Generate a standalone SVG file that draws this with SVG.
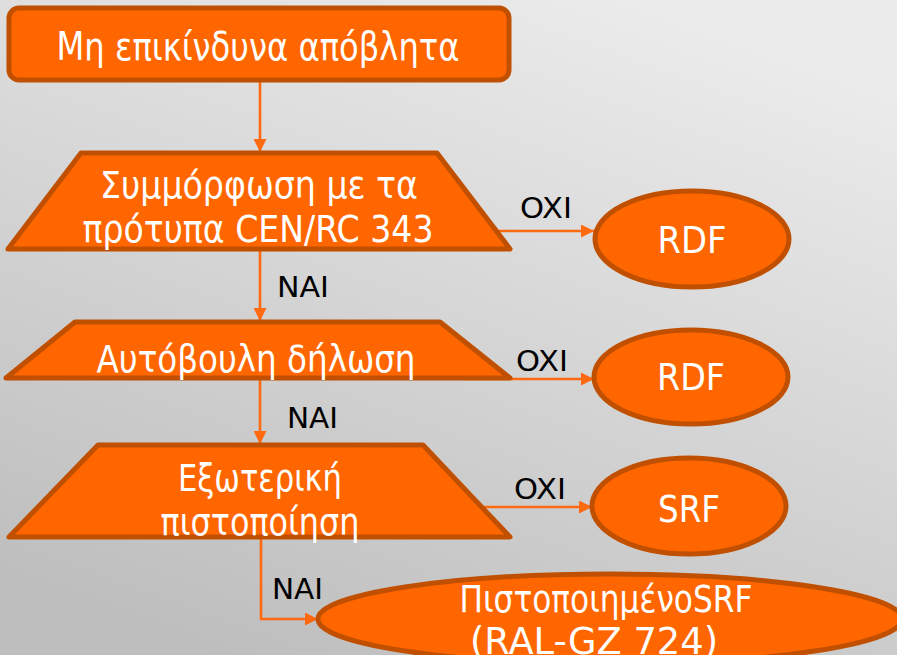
<svg xmlns="http://www.w3.org/2000/svg" width="897" height="655" viewBox="0 0 897 655">
  <defs>
    <linearGradient id="bg" x1="0.75" y1="0" x2="0.25" y2="1">
      <stop offset="0" stop-color="#ececec"/>
      <stop offset="1" stop-color="#bebebe"/>
    </linearGradient>
    <marker id="arrow" viewBox="0 0 10 10" refX="10" refY="5" markerWidth="6" markerHeight="5" markerUnits="strokeWidth" orient="auto">
      <path d="M0,0 L10,5 L0,10 z" fill="#ff6a10"/>
    </marker>
    <style>
      .shape { fill: #ff6600; stroke: #c05000; stroke-width: 5; stroke-linejoin: round; }
      .txt { font-family: "DejaVu Sans", "Liberation Sans", sans-serif; fill: #ffffff; text-anchor: middle; }
      .lbl { font-family: "DejaVu Sans", "Liberation Sans", sans-serif; fill: #000000; font-size: 29px; }
      .conn { fill: none; stroke: #ff6a10; stroke-width: 2.6; }
    </style>
  </defs>

  <rect width="897" height="655" fill="url(#bg)"/>

  <!-- connectors and their yes/no labels -->
  <g id="connectors">
    <path class="conn" d="M260,80 V152" marker-end="url(#arrow)"/>
    <path class="conn" d="M260,251 V321" marker-end="url(#arrow)"/>
    <path class="conn" d="M260,380 V444" marker-end="url(#arrow)"/>
    <path class="conn" d="M261,539 V619 H318" marker-end="url(#arrow)"/>
    <path class="conn" d="M495,231 H594" marker-end="url(#arrow)"/>
    <path class="conn" d="M463,379 H594" marker-end="url(#arrow)"/>
    <path class="conn" d="M476,507 H592" marker-end="url(#arrow)"/>
    <text class="lbl" x="520" y="218" textLength="52" lengthAdjust="spacingAndGlyphs">OXI</text>
    <text class="lbl" x="277" y="297" textLength="52" lengthAdjust="spacingAndGlyphs">NAI</text>
    <text class="lbl" x="516" y="371" textLength="52" lengthAdjust="spacingAndGlyphs">OXI</text>
    <text class="lbl" x="287" y="428" textLength="51" lengthAdjust="spacingAndGlyphs">NAI</text>
    <text class="lbl" x="514" y="499" textLength="52" lengthAdjust="spacingAndGlyphs">OXI</text>
    <text class="lbl" x="272" y="599" textLength="51" lengthAdjust="spacingAndGlyphs">NAI</text>
  </g>

  <g id="start">
    <rect class="shape" x="9" y="8" width="500" height="72" rx="10"/>
    <text class="txt" x="258" y="60" font-size="39" textLength="403" lengthAdjust="spacingAndGlyphs">Μη επικίνδυνα απόβλητα</text>
  </g>

  <g id="compliance">
    <polygon class="shape" points="81,153 437,153 510,249 8,249"/>
    <text class="txt" x="259" y="198" font-size="37" textLength="318" lengthAdjust="spacingAndGlyphs">Συμμόρφωση με τα</text>
    <text class="txt" x="258" y="242" font-size="37" textLength="351" lengthAdjust="spacingAndGlyphs">πρότυπα CEN/RC 343</text>
  </g>

  <g id="self-declaration">
    <polygon class="shape" points="75,322 440,322 510,378 6,378"/>
    <text class="txt" x="256" y="372" font-size="37" textLength="319" lengthAdjust="spacingAndGlyphs">Αυτόβουλη δήλωση</text>
  </g>

  <g id="external-cert">
    <polygon class="shape" points="98,445 423,445 510,537 9,537"/>
    <text class="txt" x="260" y="491" font-size="37" textLength="164" lengthAdjust="spacingAndGlyphs">Εξωτερική</text>
    <text class="txt" x="260" y="535" font-size="37" textLength="199" lengthAdjust="spacingAndGlyphs">πιστοποίηση</text>
  </g>

  <g id="rdf-1">
    <ellipse class="shape" cx="692" cy="239" rx="97" ry="48"/>
    <text class="txt" x="692" y="253" font-size="38" textLength="69" lengthAdjust="spacingAndGlyphs">RDF</text>
  </g>

  <g id="rdf-2">
    <ellipse class="shape" cx="691" cy="377" rx="97" ry="47"/>
    <text class="txt" x="691" y="390" font-size="38" textLength="68" lengthAdjust="spacingAndGlyphs">RDF</text>
  </g>

  <g id="srf">
    <ellipse class="shape" cx="689" cy="506" rx="97" ry="48"/>
    <text class="txt" x="689" y="522" font-size="38" textLength="62" lengthAdjust="spacingAndGlyphs">SRF</text>
  </g>

  <g id="certified-srf">
    <ellipse class="shape" cx="610" cy="619" rx="292" ry="45"/>
    <text class="txt" x="606" y="612" font-size="37" textLength="293" lengthAdjust="spacingAndGlyphs">ΠιστοποιημένοSRF</text>
    <text class="txt" x="594" y="654" font-size="37" textLength="248" lengthAdjust="spacingAndGlyphs">(RAL-GZ 724)</text>
  </g>
</svg>
